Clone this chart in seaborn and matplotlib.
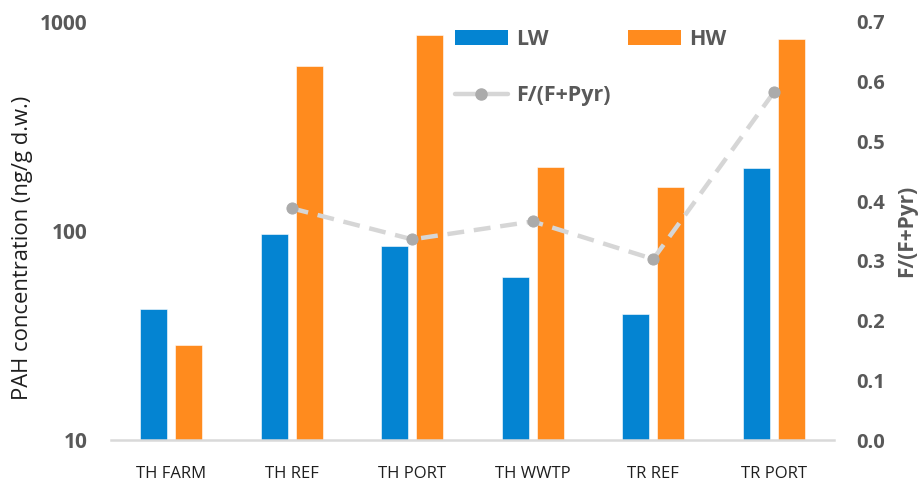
import numpy as np
import pandas as pd
import matplotlib
matplotlib.use("Agg")
import matplotlib.pyplot as plt
import seaborn as sns
from matplotlib.patches import Patch
from matplotlib.lines import Line2D

# Sampling sites and measurements
sites = ["TH FARM", "TH REF", "TH PORT", "TH WWTP", "TR REF", "TR PORT"]
lw_pah = [42.2, 96.4, 85.1, 60.3, 40.1, 201]
hw_pah = [28.4, 618, 866, 203, 163, 826]
f_ratio = [np.nan, 0.388, 0.336, 0.366, 0.303, 0.582]
seasons = ["LW", "HW"]
left_ticks = [10, 100, 1000]
left_ticklabels = ["10", "100", "1000"]
right_ticks = [0.0, 0.1, 0.2, 0.3, 0.4, 0.5, 0.6, 0.7]

BLUE = "#0484D2"
ORANGE = "#FF8B1E"
TICK_GRAY = "#595959"
LINE_GRAY = "#D6D6D6"
MARK_GRAY = "#ABABAB"

sns.set_theme(style="white")
plt.rcParams["font.family"] = ["Open Sans", "DejaVu Sans"]

bars = pd.DataFrame({
    "site": sites * 2,
    "season": [seasons[0]] * len(sites) + [seasons[1]] * len(sites),
    "pah": lw_pah + hw_pah,
})
ratio = pd.DataFrame({"pos": np.arange(len(sites)), "ratio": f_ratio})

fig = plt.figure(figsize=(9.21, 4.83), dpi=100)
ax = fig.add_axes([111 / 921, 43 / 483, 723 / 921, 418 / 483])

sns.barplot(data=bars, x="site", y="pah", hue="season", order=sites,
            hue_order=seasons, palette=[BLUE, ORANGE], saturation=1,
            width=0.58, gap=0.23, edgecolor="white", linewidth=0.4,
            legend=False, ax=ax)
ax.set_yscale("log")
ax.set_ylim(10, 1000)
ax.set_xlim(-0.5, len(sites) - 0.5)
ax.set_yticks(left_ticks)
ax.set_yticklabels(left_ticklabels)
ax.yaxis.set_minor_locator(matplotlib.ticker.NullLocator())
ax.tick_params(axis="y", length=0, pad=17, labelsize=15, labelcolor=TICK_GRAY)
for t in ax.get_yticklabels():
    t.set_fontweight("bold")
ax.tick_params(axis="x", length=0, pad=19, labelsize=12, labelcolor="#1E1E1E")
ax.set_xlabel("")
ax.set_ylabel("PAH concentration (ng/g d.w.)", fontsize=15.8, color="#1E1E1E")
ax.yaxis.set_label_coords(-0.108, 0.459)
for side in ["left", "right", "top"]:
    ax.spines[side].set_visible(False)
ax.spines["bottom"].set_color("#D9D9D9")
ax.spines["bottom"].set_linewidth(1.8)

ax2 = ax.twinx()
sns.lineplot(data=ratio, x="pos", y="ratio", ax=ax2, color=LINE_GRAY,
             linewidth=3.2, linestyle=(0, (3.8, 2.2)), marker="o",
             markersize=8, markerfacecolor=MARK_GRAY,
             markeredgecolor=MARK_GRAY, legend=False)
ax2.set_ylim(0, 0.7)
ax2.set_yticks(right_ticks)
ax2.set_yticklabels([f"{v:.1f}" for v in right_ticks])
ax2.tick_params(axis="y", length=0, pad=16, labelsize=14.5,
                labelcolor=TICK_GRAY)
for t in ax2.get_yticklabels():
    t.set_fontweight("bold")
ax2.set_ylabel("F/(F+Pyr)", fontsize=15, fontweight="bold", color=TICK_GRAY)
ax2.yaxis.set_label_coords(1.086, 0.5)
for side in ["left", "right", "top", "bottom"]:
    ax2.spines[side].set_visible(False)
ax2.grid(False)
ax.grid(False)

handles = [
    Patch(facecolor=BLUE, edgecolor="none", label="LW"),
    Line2D([0], [0], color=LINE_GRAY, linewidth=3.2, marker="o",
           markersize=8, markerfacecolor=MARK_GRAY,
           markeredgecolor=MARK_GRAY, label="F/(F+Pyr)"),
    Patch(facecolor=ORANGE, edgecolor="none", label="HW"),
]
leg = fig.legend(handles=handles, ncol=2, loc="upper left",
                 bbox_to_anchor=(455 / 921, 1 - 29 / 483), frameon=False,
                 prop={"size": 15.5, "weight": "bold"}, labelcolor=TICK_GRAY,
                 handlelength=2.45, handleheight=0.65, handletextpad=0.4,
                 labelspacing=1.62, columnspacing=0.8, borderpad=0,
                 borderaxespad=0)

fig.savefig("out.png", dpi=100)
